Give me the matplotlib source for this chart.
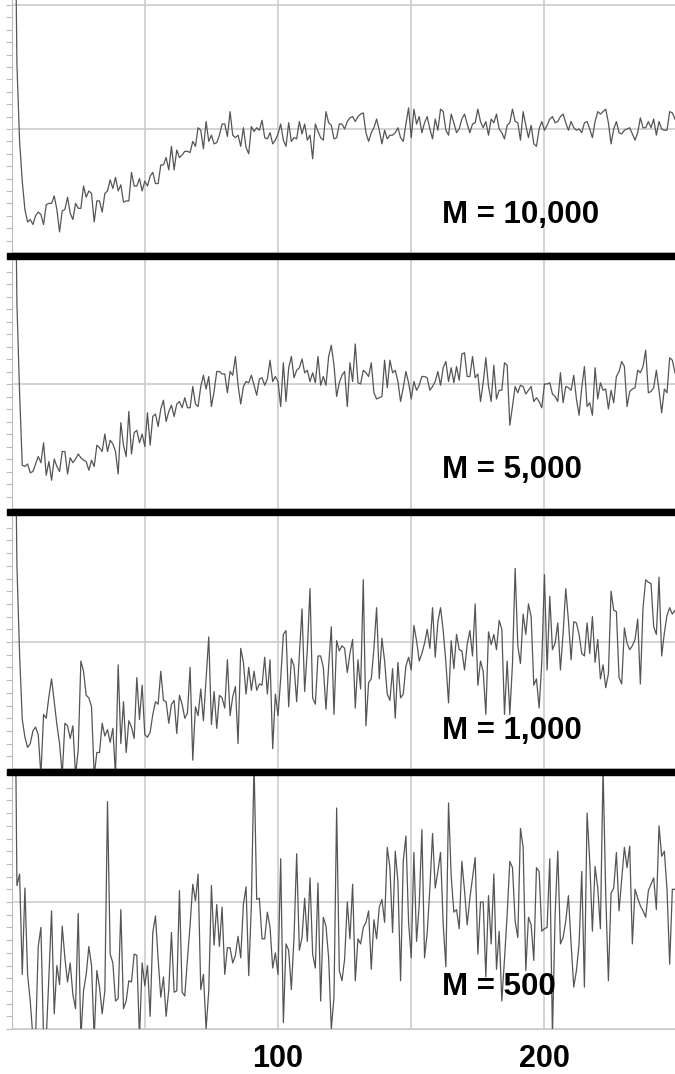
import matplotlib
matplotlib.use("Agg")
import matplotlib.pyplot as plt
from matplotlib.patches import Rectangle
from matplotlib.ticker import MultipleLocator

# values in grid units: 0 = middle gridline, 10 = top gridline
m10000 = [25, 5.2, -1.0, -4.2, -6.5,
          -7.5, -7.3, -7.7, -7.0, -6.7, -6.9, -7.7, -6.1, -6.0, -6.0,
          -5.4, -6.5, -8.3, -6.6, -6.5, -5.5, -6.8, -7.3, -6.0, -6.4,
          -6.4, -4.6, -5.5, -5.0, -5.2, -7.5, -5.8, -5.8, -6.7, -5.2,
          -5.0, -4.1, -4.8, -3.9, -5.0, -4.5, -5.9, -5.8, -5.8, -3.5,
          -4.6, -4.6, -4.0, -5.0, -4.2, -4.6, -3.8, -3.5, -4.4, -4.4,
          -2.9, -2.9, -2.3, -3.3, -1.4, -3.3, -1.7, -2.3, -2.1, -1.8,
          -1.8, -1.9, -1.0, -1.4, 0.1, -0.1, -1.6, 0.6, -1.0, -0.5,
          -1.2, -1.1, -0.5, 0.4, 0.4, -0.6, 1.4, -0.5, -0.7, -0.5,
          -1.4, 0.1, -1.5, -2.0, 0.2, -0.2, 0.1, -0.1, 0.7, -0.7,
          -0.8, -0.3, -1.2, -0.9, -0.4, 0.4, -0.9, -1.4, 0.5, -1.0,
          -0.7, -0.8, 0.6, -0.4, 0.4, -0.9, -0.5, -2.4, 0.4, -0.2,
          -0.7, -0.9, 1.4, 0.5, 0.3, -0.8, -0.7, 0.4,
          0.4, 0.0, 0.6, 0.9, 1.0, 0.6, 1.0, 1.2, 1.3, -0.3,
          -1.0, -0.3, 0.1, 0.8, -0.1, -1.2, -0.1, -0.8, -0.5, -0.5,
          -0.3, 0.1, -0.7, -1.0, 0.4, 1.7, -0.7, 1.6, 0.4, 1.0,
          -0.3, 0.5, 1.0, 0.0, -0.8, 0.8, -0.1, 1.6, 1.4, -0.1,
          -0.5, 1.2, 0.5, -0.3, 0.0, 0.8, 1.2, 0.4, -0.3, 0.4,
          0.5, 1.6, 0.6, 0.1, 0.6, -0.5, 0.8, 0.5, 1.2, 0.0,
          -0.3, -0.8, 0.3, 0.5, 1.6, 0.6, 0.5, -0.9, 1.4, 0.3,
          -0.7, 0.3, -1.2, -1.4, 0.0, 0.6, -0.1, 0.3, 0.8, 1.0,
          0.5, 0.6, 1.0, 1.2, 0.5, -0.1, 0.6, 0.1, -0.1, 0.0,
          -0.3, 0.5, 0.6, 0.0, -0.7, 0.6, 1.4, 1.2, 1.4, 1.6,
          0.5, -1.2, 0.0, 0.6, -0.3, -0.4, -0.1, 0.0, 0.1, -0.4,
          -0.9, -0.3, 0.9, 0.1, 0.1, 0.6, 0.1, 0.8, -0.5, 0.6,
          0.0, -0.1, -0.1, 1.4, 1.3, 0.8]

m5000 = [25, 6.4, -0.7, -6.5, -6.6,
         -6.4, -7.1, -7.0, -6.4, -5.8, -6.3, -4.7, -7.3, -6.2, -7.7,
         -6.0, -6.6, -7.0, -5.4, -5.4, -7.2, -5.9, -6.3, -6.0, -5.6,
         -5.9, -6.1, -6.2, -6.9, -6.1, -6.6, -4.9, -5.1, -5.4, -4.0,
         -5.4, -4.5, -4.8, -5.4, -7.2, -3.1, -4.9, -5.8, -2.2, -5.6,
         -3.9, -3.7, -4.7, -4.0, -5.0, -2.3, -4.9, -2.6, -2.4, -3.4,
         -2.0, -1.3, -3.0, -2.2, -1.7, -2.6, -1.6, -1.4, -1.9, -1.1,
         -1.9, -1.9, -0.2, -1.6, -1.8, -0.2, 0.7, -0.4, 0.6, -1.8,
         -0.6, 1.0, 1.0, 0.8, 0.8, -0.7, 1.0, 0.7, 2.2, -0.1,
         -1.6, -0.2, 0.2, 0.1, 0.7, -0.1, -0.9, 0.4, 0.5, -0.1,
         0.4, 1.9, 0.2, 0.6, 0.2, -1.8, 1.7, -1.4, 1.3, 2.2,
         0.5, 1.1, 1.3, 2.0, 0.9, 1.1, 0.2, 0.9, 0.1, 2.2,
         -0.1, 0.6, -0.1, 2.2, 3.1, 1.5, -1.0, 0.1,
         0.7, 1.0, -1.8, 1.7, 0.2, 3.2, 0.1, 0.0, 1.1, 0.9,
         0.6, 1.7, -0.7, -1.2, -1.1, -1.0, 1.9, -0.3, 1.9, 0.9,
         1.1, 0.2, -1.4, -0.3, 1.0, 0.1, -1.2, 0.2, -0.5, -0.1,
         0.6, 0.6, 0.5, -0.5, -0.2, 0.2, 1.0, -0.1, 1.3, 1.8,
         0.2, 1.3, 0.1, 1.4, 0.3, 2.4, 2.5, 0.6, 0.6, 2.2,
         0.5, 0.8, -1.4, 0.1, 2.1, -0.2, -1.4, 1.5, -1.2, -0.5,
         -0.5, 1.7, 1.5, -3.3, -1.8, -0.2, -0.7, -0.1, -0.2, -0.8,
         -0.5, -0.2, -1.4, -1.1, -1.4, -1.9, 0.0, 0.0, 0.1, -0.8,
         -1.0, -1.4, 0.9, -1.5, -0.2, -0.3, -0.5, 0.7, -1.2, -2.5,
         -0.3, 1.4, -1.8, -1.5, -2.5, 1.3, -1.2, 0.1, -0.5, -0.4,
         -2.0, -0.5, -1.5, 0.6, 1.0, 1.8, 1.4, -1.8, -0.6, -0.4,
         -0.3, 1.1, 0.9, 1.4, 2.7, -0.7, -0.6, -0.3, 1.1, -0.5,
         -2.3, -0.4, -0.7, 2.1, 1.9, 0.9]

m1000 = [25, 6.0, -1.0, -6.1, -7.5,
         -8.3, -8.0, -7.0, -6.7, -7.3, -10.5, -5.7, -6.0, -4.3, -2.9,
         -4.7, -6.5, -8.0, -10.5, -6.4, -6.6, -7.6, -6.6, -10.5, -8.5,
         -1.5, -2.3, -4.2, -4.4, -5.1, -10.5, -8.7, -8.7, -6.4, -7.4,
         -6.9, -7.9, -6.8, -10.5, -1.8, -8.0, -4.7, -8.7, -6.2, -6.7,
         -7.6, -2.8, -6.1, -3.4, -7.3, -7.5, -7.1, -5.7, -4.7, -4.9,
         -2.3, -4.6, -4.7, -6.4, -4.9, -4.6, -7.2, -4.2, -4.9, -6.0,
         -5.6, -2.0, -9.3, -5.1, -5.8, -3.7, -6.2, -2.9, 0.4, -6.5,
         -3.9, -6.8, -4.2, -4.4, -5.2, -1.4, -5.8, -4.3, -3.5, -8.0,
         -0.5, -1.6, -4.1, -2.0, -3.8, -2.3, -3.8, -3.3, -3.4, -1.2,
         -4.1, -1.4, -8.4, -4.1, -5.8, -2.9, 0.6, 0.9, -5.1, -1.3,
         -1.9, -4.7, -1.0, 2.6, -3.9, -0.6, 4.2, -4.4, -4.9, -1.1,
         -1.1, -2.0, -5.3, -1.9, 1.2, -5.7, 0.1, -0.7,
         -0.3, -0.5, -2.4, -0.9, 0.2, -5.2, -1.4, -3.7, 4.9, -6.6,
         -3.2, -2.9, -0.5, 2.7, -2.9, 0.3, -1.5, -4.1, -4.6, -2.1,
         -6.0, -1.6, -4.4, -4.1, -1.9, -1.2, -2.2, 1.3, 0.1, -1.5,
         -0.9, -0.1, 1.0, -0.5, 2.7, -1.2, 1.6, 2.7, 0.9, -1.6,
         -4.8, 0.1, -2.1, 0.6, -0.6, -0.7, -2.2, -0.2, 0.9, -1.1,
         3.0, -3.4, -1.5, -2.3, -5.7, 0.8, -0.2, 0.6, -0.6, 1.7,
         1.0, -5.7, -1.5, -5.7, -1.7, 5.8, -0.3, -1.7, 2.2, 0.6,
         3.0, 2.0, -3.4, -2.9, -5.2, -1.6, 5.3, -2.2, 3.6, -0.6,
         -0.1, 1.5, -2.2, 0.7, 4.2, 1.7, -1.4, 1.6, 1.5, 0.6,
         -0.9, -1.1, 1.5, -0.9, 2.0, -1.6, 0.2, -2.9, -1.8, -3.6,
         -2.5, 4.0, 2.5, 2.4, -2.8, -3.3, 1.1, -0.1, -0.6, -0.3,
         0.2, 1.8, -3.3, 2.7, 4.9, 4.7, 4.6, 1.2, 0.6, 5.1,
         -1.1, 0.7, 2.1, 2.7, 2.2, 2.5]

m500 = [25, 1.3, 2.2, -5.7, 1.1,
        -5.7, -7.8, -10.7, -10.7, -3.5, -2.0, -10.7, -10.7, -5.9, -0.7,
        -8.8, -5.0, -6.5, -1.9, -4.4, -6.3, -4.8, -7.3, -8.4, -0.9,
        -10.7, -7.0, -5.7, -3.5, -5.0, -10.7, -5.4, -6.7, -8.8, -7.0,
        7.9, -4.1, -4.8, -7.8, -7.6, -0.6, -8.4, -7.8, -6.2, -6.3,
        -4.1, -4.2, -10.7, -4.8, -6.6, -5.0, -9.0, -2.4, -1.1, -4.5,
        -7.5, -5.9, -9.0, -6.9, -2.4, -7.1, -7.0, 0.9, -7.1, -7.4,
        -4.5, -1.8, 1.4, 0.1, 2.2, -6.9, -5.7, -10.0, -7.0, 1.3,
        -3.4, -0.2, -3.5, -0.4, -5.7, -3.6, -3.6, -4.8, -4.2, -2.7,
        -4.4, -0.2, 1.2, -5.8, -0.2, 11.0, 0.2, 0.3, -2.9, -2.9,
        -0.8, -2.0, -5.2, -4.0, -5.7, 3.4, -9.5, -3.3, -3.8, -6.9,
        -2.8, 3.8, -3.8, -2.8, 0.3, -3.1, 1.9, -4.1, -5.2, 1.5,
        -7.8, -1.2, -1.9, -4.4, -10.0, -7.5, 7.4, -5.4,
        -6.2, -4.5, 0.0, -2.9, 1.4, -6.2, -2.9, -3.3, -2.0, -1.6,
        -0.7, -5.3, -1.4, -2.9, -0.4, 0.2, -1.6, 4.3, 2.7, -2.4,
        4.0, 1.6, -6.2, 3.2, 5.2, -1.6, -4.4, 3.9, -3.1, -0.2,
        5.7, -4.4, -2.4, 1.1, 5.4, 1.1, 2.4, 3.9, -1.8, -5.1,
        7.8, 2.0, -0.8, -0.6, -2.1, 3.2, 0.9, -1.8, 0.3, 1.9,
        3.5, -4.1, 0.0, 0.0, -5.9, 0.5, -3.3, 2.2, -5.3, -2.3,
        -7.8, -4.5, -1.0, 3.2, 2.7, -1.5, -2.8, 5.8, 4.3, -5.4,
        -1.2, -1.8, -4.6, 2.7, 2.4, -2.3, -2.1, -2.0, 3.4, -10.5,
        -1.0, 4.0, -3.3, -2.8, -1.5, 0.5, -3.3, -6.7, -5.4, -3.3,
        2.4, -6.7, 7.0, 3.2, -2.3, 2.8, 1.1, -2.1, 10.5, 0.6,
        -6.2, 0.7, 1.1, 3.9, -0.7, 1.8, 4.3, 2.7, 4.4, -3.3,
        1.0, 0.3, -0.3, -0.7, -1.2, 0.9, 1.4, 1.9, -0.6, 6.0,
        3.6, 4.0, 1.0, -4.9, 1.0, 1.0]

series = [m10000, m5000, m1000, m500]
labels = ['M = 10,000', 'M = 5,000', 'M = 1,000', 'M = 500']
x_ticks = [50, 100, 150, 200]
x_ticklabels = ['', '100', '', '200']

W, H = 675, 1074
fig = plt.figure(figsize=(W / 100, H / 100), dpi=100)

# panel boxes in pixels (top, bottom) and y limits
panels = [(0, 253, (-9.4, 10.4)),
          (259, 509, (-9.7, 10.0)),
          (515, 769, (-9.45, 10.0)),
          (775, 1029, (-10.0, 9.95))]
label_base = [223, 478, 739, 995]

x0 = 11.6
for i, (top, bot, ylim) in enumerate(panels):
    ax = fig.add_axes([x0 / W, 1 - bot / H, (W - x0) / W, (bot - top) / H])
    xs = list(range(1, len(series[i]) + 1))
    ax.plot(xs, series[i], color='#555555', lw=0.9, zorder=3)
    ax.set_xlim(0, 249)
    ax.set_ylim(*ylim)
    ax.set_xticks(x_ticks)
    ax.set_yticks([-10, 0, 10])
    ax.yaxis.set_minor_locator(MultipleLocator(1))
    ax.grid(True, which='major', color='#cccccc', lw=1.2, zorder=0)
    ax.set_yticklabels([])
    ax.tick_params(axis='y', which='both', direction='out', length=4,
                   width=0.8, color='#bbbbbb')
    for s in ['top', 'right']:
        ax.spines[s].set_visible(False)
    ax.spines['left'].set_color('#bbbbbb')
    ax.spines['bottom'].set_color('#cccccc')
    if i < 3:
        ax.spines['bottom'].set_visible(False)
        ax.tick_params(axis='x', length=0, labelbottom=False)
    else:
        ax.set_xticklabels(x_ticklabels, fontsize=22, fontweight='bold',
                           family='Liberation Sans')
        ax.tick_params(axis='x', length=0, pad=11)
    fig.text(442 / W, 1 - label_base[i] / H, labels[i], fontsize=22.5,
             fontweight='bold', family='Liberation Sans', va='baseline',
             ha='left', zorder=5)

# thick black separators between panels
for y1, y2 in [(253, 259), (509, 515), (769, 775)]:
    fig.add_artist(Rectangle((7 / W, 1 - y2 / H), (W - 7) / W, (y2 - y1) / H,
                             transform=fig.transFigure, color='black', zorder=10))

fig.savefig('out.png', dpi=100)
